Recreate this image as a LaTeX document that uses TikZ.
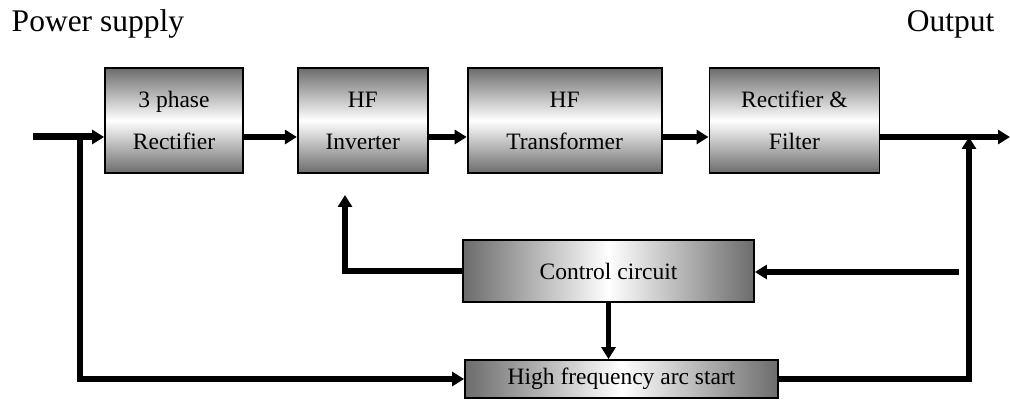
\documentclass[tikz,border=0pt]{standalone}
\usepackage{fontspec}
\setmainfont{Liberation Serif}
\usetikzlibrary{arrows.meta,positioning}
\definecolor{boxgray}{RGB}{108,108,108}

\begin{document}
\begin{tikzpicture}[x=1pt,y=-1pt,line width=5.5pt,>={Triangle[length=12pt,width=14pt]}]
    % Block TiKZ Styles
    \tikzstyle{box}=[draw,line width=1.8pt,inner sep=0pt,align=center,font=\fontsize{23.5}{42}\selectfont]
    \tikzstyle{vbox}=[box,top color=boxgray,bottom color=boxgray,middle color=white,minimum height=105pt]
    \tikzstyle{hbox}=[box,left color=boxgray,right color=boxgray,middle color=white]
    \tikzstyle{title}=[anchor=base west,inner sep=0pt,font=\fontsize{31.5}{36}\selectfont]

    \useasboundingbox (0,0) rectangle (1010,419);

    % Titles
    \node[title] (supply) at (9,32)   {Power supply};
    \node[title] (out)    at (904,32) {Output};

    % Nodes, positions, and labels
    \node[vbox,minimum width=138pt] (rect)  at (174,120.5)       {3 phase\\Rectifier};
    \node[vbox,minimum width=130pt] (inv)   [right=53pt of rect] {HF\\Inverter};
    \node[vbox,minimum width=194pt] (trans) [right=38pt of inv]  {HF\\Transformer};
    \node[vbox,minimum width=170pt] (filt)  [right=46pt of trans] {Rectifier \&\\Filter};
    \node[hbox,minimum width=291pt,minimum height=62pt] (ctrl) at (608.5,271) {Control circuit};
    \node[hbox,minimum width=313pt,minimum height=38pt] (arc)  at (621.5,379) {High frequency arc start};

    % Free ends
    \coordinate (in)     at (33,137);
    \coordinate (tap)    at (80,137);
    \coordinate (outend) at (1010,137);
    \coordinate (fb)     at (969,137);
    \coordinate (sense)  at (959,272);
    \coordinate (invin)  at (345,195);

    % Connectors
    \draw[->,line width=7pt] (in) -- (rect.west |- in);
    \draw[->] (rect.east |- in) -- (inv.west |- in);
    \draw[->] (inv.east |- in) -- (trans.west |- in);
    \draw[->] (trans.east |- in) -- (filt.west |- in);
    \draw[->] (filt.east |- in) -- (outend);
    \draw[->] (tap) -- (tap |- arc.west) -- (arc.west);
    \draw[->] (arc.east) -- (arc.east -| fb) -- (fb);
    \draw[->] (sense) -- (ctrl.east |- sense);
    \draw[->] (ctrl.west) -- (ctrl.west -| invin) -- (invin);
    \draw[->] (ctrl.south) -- (ctrl.south |- arc.north);

\end{tikzpicture}
\end{document}
